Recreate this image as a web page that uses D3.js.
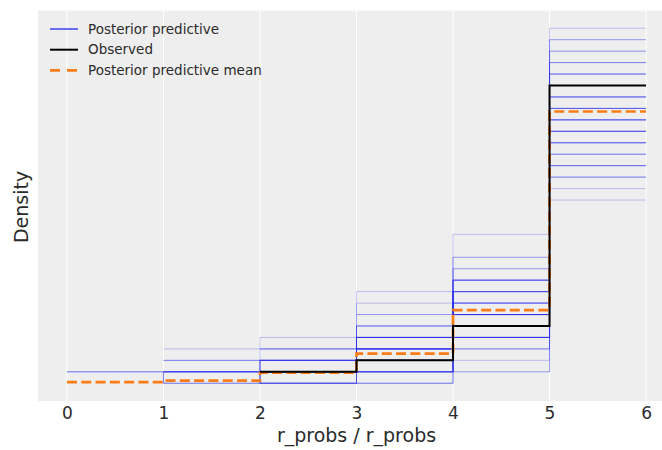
<!DOCTYPE html>
<html><head><meta charset="utf-8">
<script src="https://cdn.jsdelivr.net/npm/d3@7"></script>
<style>body{margin:0;background:#fff} svg{display:block}</style>
</head><body>
<svg id="c" width="662" height="450"></svg>
<script>
// ---- data ----
const binValues = [0, 1, 2, 3, 4, 5];          // integer bins (left edges)
const tickValues = [0, 1, 2, 3, 4, 5, 6];
// posterior predictive draws: counts per bin value 0..5 (34 observations each)
const ppSamples = [
  [0,0,0,1,2,31],
  [0,0,1,2,1,30],
  [0,0,0,1,4,29],
  [0,1,0,0,4,29],
  [0,0,0,2,4,28],
  [0,0,1,3,3,27],
  [0,1,0,2,4,27],
  [0,0,0,2,6,26],
  [1,0,0,1,6,26],
  [0,0,1,1,7,25],
  [0,1,0,4,4,25],
  [0,0,0,3,7,24],
  [0,0,2,3,5,24],
  [0,0,1,4,6,23],
  [0,0,0,3,8,23],
  [1,0,2,0,9,22],
  [0,1,2,3,6,22],
  [0,0,0,4,8,22],
  [0,0,2,5,6,21],
  [0,2,1,1,9,21],
  [0,0,0,6,8,20],
  [1,0,0,0,13,20],
  [0,0,3,1,11,19],
  [0,1,1,4,9,19],
  [0,0,2,4,10,18],
  [0,2,3,7,4,18],
  [0,0,3,5,9,17],
  [0,3,4,8,3,16]
];
// how many draws share each histogram
const ppWeights = [1,2,1,1,3,2,2,2,1,3,2,3,2,3,3,1,3,2,3,2,2,1,2,2,2,1,1,1];
const observedCounts = [0, 0, 1, 2, 5, 26];
const ppMeanDensity = [0.003, 0.007, 0.027, 0.076, 0.188, 0.698];
const legendLabels = ["Posterior predictive", "Observed", "Posterior predictive mean"];
const xLabel = "r_probs / r_probs";
const yLabel = "Density";

// ---- layout ----
const C_PP = "#2a2eec", C_MEAN = "#fa7c17", C_OBS = "#000000";
const axL = 38, axR = 675, axT = 10.5, axB = 401;
const svg = d3.select("#c");

function toDensity(counts) {
  const total = d3.sum(counts);
  const start = counts.findIndex(c => c > 0);
  const pts = [];
  for (let i = start; i < counts.length; i++) pts.push([binValues[i], counts[i] / total]);
  pts.push([binValues[binValues.length - 1] + 1, counts[counts.length - 1] / total]);
  return pts;
}
const ppPts = ppSamples.map(toDensity);
const obsPts = toDensity(observedCounts);
const meanPts = binValues.map((v, i) => [v, ppMeanDensity[i]]);
meanPts.push([binValues[binValues.length - 1] + 1, ppMeanDensity[ppMeanDensity.length - 1]]);

const yMax = d3.max(ppPts.concat([obsPts, meanPts]).flat(), d => d[1]);
const x = d3.scaleLinear().domain([-0.3, 6.3]).range([axL, axR]);
const y = d3.scaleLinear().domain([-0.05 * yMax, 1.05 * yMax]).range([axB, axT]);

svg.append("rect").attr("x", axL).attr("y", axT).attr("width", axR - axL).attr("height", axB - axT)
  .attr("fill", "#eeeeee");

// grid
svg.append("g").selectAll("line").data(tickValues).join("line")
  .attr("x1", d => x(d)).attr("x2", d => x(d)).attr("y1", axT).attr("y2", axB)
  .attr("stroke", "#ffffff").attr("stroke-width", 1);

// x axis
const xAxis = d3.axisBottom(x).tickValues(tickValues).tickSize(0).tickPadding(6).tickFormat(d3.format("d"));
const gx = svg.append("g").attr("transform", `translate(0,${axB})`).call(xAxis);
gx.select(".domain").remove();
gx.selectAll("text").attr("font-family", "DejaVu Sans").attr("font-size", 17).attr("fill", "#2b2b2b");

const line = d3.line().x(d => x(d[0])).y(d => y(d[1])).curve(d3.curveStepAfter);

svg.append("defs").append("clipPath").attr("id", "clip")
  .append("rect").attr("x", axL).attr("y", axT).attr("width", axR - axL).attr("height", axB - axT);
const plot = svg.append("g").attr("clip-path", "url(#clip)");

plot.append("g").selectAll("path").data(ppPts).join("path")
  .attr("d", line).attr("fill", "none").attr("stroke", C_PP).attr("stroke-width", 1)
  .attr("stroke-opacity", (d, i) => 1 - Math.pow(0.74, ppWeights[i]));

plot.append("path").datum(meanPts).attr("d", line).attr("fill", "none")
  .attr("stroke", C_MEAN).attr("stroke-width", 2.7).attr("stroke-dasharray", "10,4.3");

plot.append("path").datum(obsPts).attr("d", line).attr("fill", "none")
  .attr("stroke", C_OBS).attr("stroke-width", 2);

// labels
svg.append("text").attr("x", (x(0) + x(6)) / 2).attr("y", 442).attr("text-anchor", "middle")
  .attr("font-family", "DejaVu Sans").attr("font-size", 19).attr("fill", "#2b2b2b").text(xLabel);
svg.append("text").attr("transform", `translate(28,207) rotate(-90)`).attr("text-anchor", "middle")
  .attr("font-family", "DejaVu Sans").attr("font-size", 19).attr("fill", "#2b2b2b").text(yLabel);

// legend
const legendStyles = [
  {color: C_PP, width: 1.5, dash: null, op: 0.9},
  {color: C_OBS, width: 2, dash: null, op: 1},
  {color: C_MEAN, width: 2.7, dash: "10,7", op: 1}
];
const lg = svg.append("g");
const rowY = [29, 49.7, 70.3];
legendLabels.forEach((lab, i) => {
  const s = legendStyles[i];
  lg.append("line").attr("x1", 50).attr("x2", 78).attr("y1", rowY[i]).attr("y2", rowY[i])
    .attr("stroke", s.color).attr("stroke-width", s.width).attr("stroke-opacity", s.op)
    .attr("stroke-dasharray", s.dash);
  lg.append("text").attr("x", 88).attr("y", rowY[i]).attr("dy", "0.35em")
    .attr("font-family", "DejaVu Sans").attr("font-size", 13.5).attr("fill", "#2b2b2b").text(lab);
});
</script>
</body></html>
